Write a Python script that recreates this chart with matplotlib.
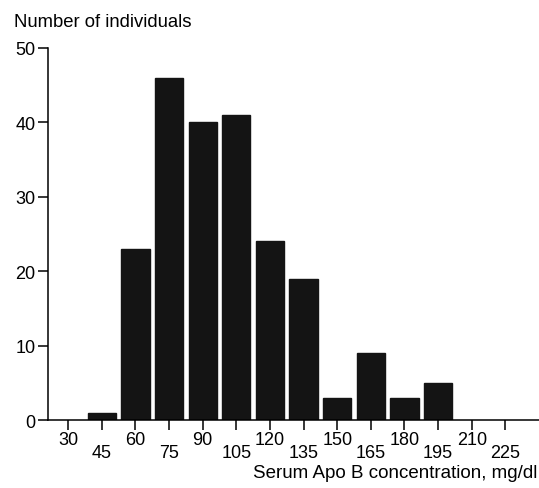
import numpy as np
import matplotlib.pyplot as plt

plt.rcParams['font.family'] = ['Liberation Sans', 'DejaVu Sans']

# bin centres (mg/dl) and counts
bin_centers = [45, 60, 75, 90, 105, 120, 135, 150, 165, 180, 195]
counts = [1, 23, 46, 40, 41, 24, 19, 3, 9, 3, 5]
upper_ticks = [30, 60, 90, 120, 150, 180, 210]   # labels on the upper row
lower_ticks = [45, 75, 105, 135, 165, 195, 225]  # labels on the lower row

fig = plt.figure(figsize=(5.39, 4.89), dpi=100)
ax = fig.add_axes([0.089, 0.139, 0.911, 0.761])

ax.bar(bin_centers, counts, width=12.6, color='#141414', edgecolor='#141414')

ax.set_xlim(21, 240)
ax.set_ylim(0, 50)
ax.spines['top'].set_visible(False)
ax.spines['right'].set_visible(False)
for s in ('left', 'bottom'):
    ax.spines[s].set_linewidth(1.1)

ax.set_yticks([0, 10, 20, 30, 40, 50])
# staggered x labels: major ticks on top row, minor ticks pushed down
ax.set_xticks(upper_ticks)
ax.set_xticklabels([str(v) for v in upper_ticks])
ax.set_xticks(lower_ticks, minor=True)
ax.set_xticklabels([str(v) for v in lower_ticks], minor=True)
ax.tick_params(axis='both', which='both', direction='out', length=7, width=1.1, labelsize=13)
ax.tick_params(axis='x', which='major', pad=1)
ax.tick_params(axis='x', which='minor', pad=10)
ax.tick_params(axis='y', pad=2)

fig.text(0.026, 0.955, 'Number of individuals', fontsize=13.3, ha='left', va='center')
fig.text(0.997, 0.031, 'Serum Apo B concentration, mg/dl', fontsize=13.5, ha='right', va='center')

fig.savefig('out.png', dpi=100)
